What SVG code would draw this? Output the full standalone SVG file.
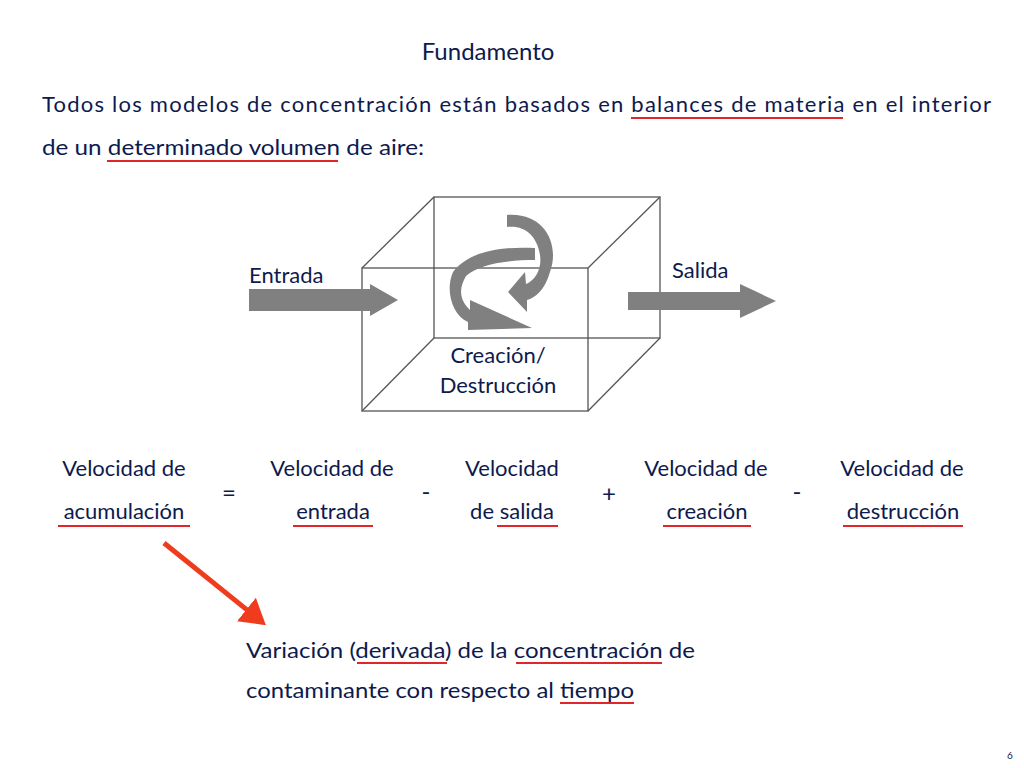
<svg xmlns="http://www.w3.org/2000/svg" width="1024" height="768" viewBox="0 0 1024 768">
<defs>
<style>
text{font-family:Lato,"Open Sans","Liberation Sans",sans-serif;fill:#0E1A4E;font-size:22px}
text.t{font-size:24px}
text.op{font-size:24px}
text.pg{font-size:10px}
.u{stroke:#E0262B;stroke-width:2;fill:none}
.c{stroke:#555;stroke-width:1.3;fill:none}
.g{fill:#808080}
</style>
<marker id="rh" markerWidth="6" markerHeight="6" refX="4" refY="3" orient="auto" markerUnits="strokeWidth"><path d="M0,0 L5,3 L0,6 Z" fill="#F03C1E"/></marker>
</defs>
<rect width="1024" height="768" fill="#fff"/>
<text class="t" x="488" y="60" text-anchor="middle">Fundamento</text>
<text x="42" y="112" textLength="949" lengthAdjust="spacing">Todos los modelos de concentración están basados en balances de materia en el interior</text>
<text x="42" y="155" textLength="382" lengthAdjust="spacingAndGlyphs">de un determinado volumen de aire:</text>
<line class="u" x1="631" y1="118" x2="843" y2="118"/>
<line class="u" x1="107" y1="161" x2="338" y2="161"/>
<g id="cube">
<rect class="c" x="434" y="197" width="226" height="141"/>
<rect class="c" x="362" y="268" width="226" height="143"/>
<line class="c" x1="362" y1="268" x2="434" y2="197"/>
<line class="c" x1="588" y1="268" x2="660" y2="197"/>
<line class="c" x1="362" y1="411" x2="434" y2="338"/>
<line class="c" x1="588" y1="411" x2="660" y2="338"/>
<text x="498" y="363" text-anchor="middle">Creación/</text>
<text x="498" y="393" text-anchor="middle">Destrucción</text>
</g>
<g id="rotation">
<path class="g" d="M507,215 C545,212 560,245 550,272 C545,290 535,298 527,300 L527,312 L508,292 L525,272 L526,284 C536,280 542,268 540,255 C537,236 525,225 507,227 Z"/>
<path class="g" d="M535,248 C500,246 468,252 453,272 C445,290 452,315 468,322 L468,330 L532,328 L470,300 L470,310 C460,300 458,290 466,276 C478,265 505,260 535,260 Z"/>
</g>
<g id="entrada">
<path class="g" d="M249,289 L370,289 L370,284 L398,300 L370,316 L370,311 L249,311 Z"/>
<text x="249" y="283">Entrada</text>
</g>
<g id="salida">
<path class="g" d="M628,292 L740,292 L740,284 L776,301 L740,318 L740,310 L628,310 Z"/>
<text x="672" y="278">Salida</text>
</g>
<g id="equation">
<text x="124" y="476" text-anchor="middle">Velocidad de</text>
<text x="124" y="519" text-anchor="middle">acumulación</text>
<line class="u" x1="58" y1="526" x2="190" y2="526"/>
<text class="op" x="229" y="501" text-anchor="middle">=</text>
<text x="332" y="476" text-anchor="middle">Velocidad de</text>
<text x="333" y="519" text-anchor="middle">entrada</text>
<line class="u" x1="293" y1="526" x2="373" y2="526"/>
<text class="op" x="426" y="500" text-anchor="middle">-</text>
<text x="512" y="476" text-anchor="middle">Velocidad</text>
<text x="512" y="519" text-anchor="middle">de salida</text>
<line class="u" x1="497" y1="526" x2="558" y2="526"/>
<text class="op" x="609" y="502" text-anchor="middle">+</text>
<text x="706" y="476" text-anchor="middle">Velocidad de</text>
<text x="707" y="519" text-anchor="middle">creación</text>
<line class="u" x1="663" y1="526" x2="751" y2="526"/>
<text class="op" x="797" y="500" text-anchor="middle">-</text>
<text x="902" y="476" text-anchor="middle">Velocidad de</text>
<text x="903" y="519" text-anchor="middle">destrucción</text>
<line class="u" x1="843" y1="526" x2="963" y2="526"/>
</g>
<g id="connectors">
<line x1="164" y1="543" x2="262" y2="622" stroke="#F03C1E" stroke-width="5" marker-end="url(#rh)"/>
</g>
<g id="note">
<text x="246" y="658" textLength="449" lengthAdjust="spacingAndGlyphs">Variación (derivada) de la concentración de</text>
<text x="246" y="698" textLength="388" lengthAdjust="spacingAndGlyphs">contaminante con respecto al tiempo</text>
<line class="u" x1="357" y1="663" x2="447" y2="663"/>
<line class="u" x1="516" y1="663" x2="662" y2="663"/>
<line class="u" x1="560" y1="703" x2="634" y2="703"/>
</g>
<text class="pg" x="1010" y="759" text-anchor="middle">6</text>
</svg>
